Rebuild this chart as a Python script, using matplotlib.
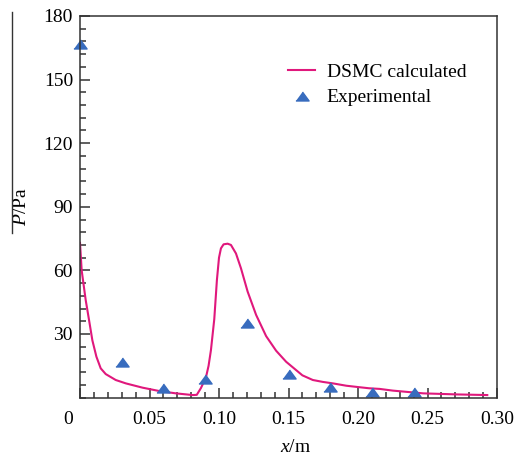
import matplotlib
matplotlib.use("Agg")
import matplotlib.pyplot as plt
import matplotlib.transforms as mtransforms
from matplotlib.lines import Line2D
from matplotlib.ticker import MultipleLocator

plt.rcParams['font.family'] = ['Liberation Serif', 'DejaVu Serif']
plt.rcParams['mathtext.fontset'] = 'custom'
plt.rcParams['mathtext.rm'] = 'Liberation Serif'
plt.rcParams['mathtext.it'] = 'Liberation Serif:italic'

# DSMC curve
dsmc_x = [0.0, 0.0012, 0.0041, 0.0065, 0.0089, 0.0118, 0.0149, 0.0185, 0.0257, 0.033,
          0.0449, 0.057, 0.069, 0.081, 0.084, 0.087, 0.0906, 0.0925, 0.0942, 0.0966,
          0.0985, 0.100, 0.1014, 0.1033, 0.1062, 0.1086, 0.1122, 0.1158, 0.1206, 0.1267,
          0.1339, 0.1411, 0.1483, 0.160, 0.1675, 0.1747, 0.182, 0.1916, 0.201, 0.208,
          0.2156, 0.225, 0.247, 0.271, 0.293]
dsmc_p = [73, 60, 46, 36.6, 27, 19.3, 13.8, 11.1, 8.3, 6.7,
          4.7, 3.1, 2.0, 1.2, 1.3, 4.5, 9.5, 15, 22.4, 37,
          55.5, 66, 70.4, 72.3, 72.6, 72, 68, 61, 50, 39,
          29, 22.1, 16.9, 10.5, 8.3, 7.4, 6.7, 5.6, 4.9, 4.4,
          4.1, 3.3, 2.0, 1.5, 1.2]

# experimental points
exp_x = [0.0, 0.03, 0.06, 0.09, 0.12, 0.15, 0.18, 0.21, 0.24]
exp_p = [167, 17, 4.3, 8.8, 35, 11, 5.2, 2.6, 2.6]

xticks = [0, 0.05, 0.10, 0.15, 0.20, 0.25, 0.30]
xticklabels = ['0', '0.05', '0.10', '0.15', '0.20', '0.25', '0.30']
yticks = [30, 60, 90, 120, 150, 180]

fig = plt.figure(figsize=(5.19, 4.57), dpi=100)
ax = fig.add_axes([80 / 519, 59.4 / 457, 417 / 519, 381.6 / 457])

tri = [(-1, -0.68), (1, -0.68), (0, 0.68)]
ax.plot(dsmc_x, dsmc_p, color='#E0187C', lw=1.5, label='DSMC calculated')
ax.plot(exp_x, exp_p, ls='none', marker=tri, ms=9.5, color='#386CBE',
        label='Experimental', clip_on=False)

ax.set_xlim(0, 0.30)
ax.set_ylim(0, 180)
ax.set_xticks(xticks)
ax.set_xticklabels(xticklabels)
ax.set_yticks(yticks)
ax.xaxis.set_minor_locator(MultipleLocator(0.01))
ax.yaxis.set_minor_locator(MultipleLocator(6))
ax.tick_params(which='both', direction='in', top=False, right=False,
               labelsize=14, width=1.1, color='#333333')
ax.tick_params(which='major', length=7.2)
ax.tick_params(which='minor', length=4.3)
ax.tick_params(axis='x', pad=10)
ax.tick_params(axis='y', pad=5)
for s in ax.spines.values():
    s.set_linewidth(1.1)
    s.set_color('#333333')

# the "0" label sits to the left of the axis corner
lbl0 = ax.get_xticklabels()[0]
lbl0.set_transform(lbl0.get_transform() +
                   mtransforms.ScaledTranslation(-12 / 100, 0, fig.dpi_scale_trans))

ax.set_xlabel('$x$/m', fontsize=14)
ax.xaxis.set_label_coords(0.518, -0.108)
ax.set_ylabel('$P$/Pa', fontsize=14)
ax.yaxis.set_label_coords(-0.12, 0.5)

fig.add_artist(Line2D([12 / 519, 12 / 519], [1 - 12 / 457, 1 - 233 / 457],
                      transform=fig.transFigure, color='#333333', lw=1.0))

ax.legend(loc='upper left', bbox_to_anchor=(288 / 519, 1 - 63 / 457),
          bbox_transform=fig.transFigure, frameon=False, fontsize=14,
          handlelength=1.4, handletextpad=0.6, labelspacing=0.42,
          borderpad=0, borderaxespad=0)

fig.savefig('out.png', dpi=100)
